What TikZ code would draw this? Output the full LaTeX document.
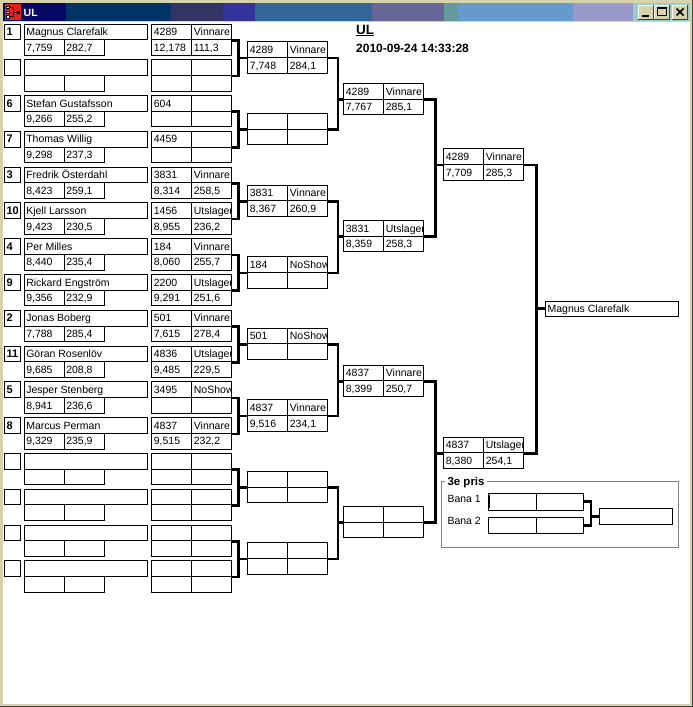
\documentclass[tikz,border=0pt]{standalone}
\usepackage{fontspec}
\setmainfont{Liberation Sans}

\definecolor{winface}{RGB}{214,211,171}
\definecolor{winedge}{RGB}{64,64,64}
\definecolor{iconred}{RGB}{230,30,30}
\definecolor{groupline}{RGB}{128,128,128}
\definecolor{tbA}{RGB}{8,8,102}
\definecolor{tbB}{RGB}{0,51,102}
\definecolor{tbC}{RGB}{51,51,102}
\definecolor{tbD}{RGB}{51,51,153}
\definecolor{tbE}{RGB}{51,102,153}
\definecolor{tbF}{RGB}{102,102,153}
\definecolor{tbG}{RGB}{102,153,153}
\definecolor{tbH}{RGB}{102,153,204}
\definecolor{tbI}{RGB}{153,153,204}
\definecolor{tbJ}{RGB}{153,204,204}

\newcommand{\cellfont}{\fontsize{10.5}{12}\selectfont}
% 2x2 result box: name, x, y, four texts
\newcommand{\resbox}[7]{%
  \node[cell, txt={#4}] (#1-a) at (#2,#3) {};
  \node[cell, txt={#5}] (#1-b) at (#2+40,#3) {};
  \node[cell, txt={#6}] (#1-c) at (#2,#3+15.7) {};
  \node[cell, txt={#7}] (#1-d) at (#2+40,#3+15.7) {};
}

\begin{document}
\begin{tikzpicture}[x=1pt, y=-1pt,
    cell/.style={draw, line width=1pt, inner sep=0pt, anchor=north west,
      minimum width=40pt, minimum height=15.7pt},
    txt/.style={path picture={\node[anchor=base west, inner sep=0pt,
        minimum size=0pt, font=\cellfont]
        at ([shift={(1.6pt,4.2pt)}]path picture bounding box.south west) {#1};}},
    bracket/.style={line width=2.6pt},
    plain/.style={anchor=base west, inner sep=0pt}]
  \useasboundingbox (0,0) rectangle (693,707);
  % window
  \fill[winedge] (0,0) rectangle (693,707);
  \fill[winface] (0,0) rectangle (691.5,705.5);
  \fill[white] (3,22) rectangle (690,704);
  \foreach \xa/\xb/\col in {3/66/tbA,66/171/tbB,171/223/tbC,223/255/tbD,255/372/tbE,
      372/444/tbF,444/458/tbG,458/573/tbH,573/633/tbI,633/690/tbJ}
    \fill[\col] (\xa,3) rectangle (\xb,21);
  \fill[iconred] (5,4) rectangle (21,20);
  \foreach \yy in {6,10.8,15.6}
    \draw[fill=white, line width=0.5pt] (6.5,\yy) rectangle (9.5,\yy+2.6);
  \draw[line width=1pt] (9.5,7.3) -| (13.5,16.9) -- (9.5,16.9);
  \draw[line width=1pt] (13.5,12.1) -- (17,12.1);
  \fill (16.5,10.6) rectangle (19.5,13.6);
  \node[plain, text=white, font=\bfseries\fontsize{10.5}{12}\selectfont] (wtitle) at (23.5,16.5) {UL};
  \foreach \bx in {638,654,672}{
    \fill[winface] (\bx,5) rectangle (\bx+15,19);
    \draw[white, line width=0.8pt] (\bx,19) -- (\bx,5) -- (\bx+15,5);
    \draw[winedge, line width=0.8pt] (\bx,19) -- (\bx+15,19) -- (\bx+15,5);
  }
  \fill (642,14.5) rectangle (648.5,16.5);
  \draw[line width=0.8pt] (657.5,7.5) rectangle (666.5,15.5);
  \fill (657,7) rectangle (667,9);
  \draw[line width=1.5pt] (676.5,8.5) -- (683.5,15.5) (683.5,8.5) -- (676.5,15.5);

  % heading
  \node[plain, font=\bfseries\fontsize{13.5}{15}\selectfont] (head) at (356,34) {\underline{UL}};
  \node[plain, font=\bfseries\fontsize{12}{14}\selectfont] (stamp) at (356,52) {2010-09-24 14:33:28};

  % entries and first round
  \foreach \sd/\nm/\sa/\sb/\ta/\tb/\tc/\td [count=\i from 0] in {%
      1/Magnus Clarefalk/{7,759}/{282,7}/4289/Vinnare/{12,178}/{111,3},%
      {}/{}/{}/{}/{}/{}/{}/{},%
      6/Stefan Gustafsson/{9,266}/{255,2}/604/{}/{}/{},%
      7/Thomas Willig/{9,298}/{237,3}/4459/{}/{}/{},%
      3/Fredrik Österdahl/{8,423}/{259,1}/3831/Vinnare/{8,314}/{258,5},%
      10/Kjell Larsson/{9,423}/{230,5}/1456/Utslagen/{8,955}/{236,2},%
      4/Per Milles/{8,440}/{235,4}/184/Vinnare/{8,060}/{255,7},%
      9/Rickard Engström/{9,356}/{232,9}/2200/Utslagen/{9,291}/{251,6},%
      2/Jonas Boberg/{7,788}/{285,4}/501/Vinnare/{7,615}/{278,4},%
      11/Göran Rosenlöv/{9,685}/{208,8}/4836/Utslagen/{9,485}/{229,5},%
      5/Jesper Stenberg/{8,941}/{236,6}/3495/NoShow/{}/{},%
      8/Marcus Perman/{9,329}/{235,9}/4837/Vinnare/{9,515}/{232,2},%
      {}/{}/{}/{}/{}/{}/{}/{},%
      {}/{}/{}/{}/{}/{}/{}/{},%
      {}/{}/{}/{}/{}/{}/{}/{},%
      {}/{}/{}/{}/{}/{}/{}/{}%
    }{
    \pgfmathsetmacro\y{23.5+35.79*\i}
    \node[cell, minimum width=15.5pt, txt={\bfseries\fontsize{11}{12}\selectfont\sd}] (seed\i) at (4,\y) {};
    \node[cell, minimum width=123.6pt, txt=\nm] (name\i) at (23.7,\y) {};
    \node[cell, txt=\sa] (ta\i) at (23.7,\y+15.7) {};
    \node[cell, txt=\sb] (tb\i) at (63.7,\y+15.7) {};
    \resbox{r1-\i}{151.3}{\y}{\ta}{\tb}{\tc}{\td}
  }

  % second round
  \foreach \ta/\tb/\tc/\td [count=\k from 0] in {4289/Vinnare/{7,748}/{284,1},
      {}/{}/{}/{}, 3831/Vinnare/{8,367}/{260,9}, 184/NoShow/{}/{}, 501/NoShow/{}/{},
      4837/Vinnare/{9,516}/{234,1}, {}/{}/{}/{}, {}/{}/{}/{}}{
    \pgfmathsetmacro\y{41.4+71.58*\k}
    \pgfmathtruncatemacro\u{2*\k}
    \pgfmathtruncatemacro\v{2*\k+1}
    \resbox{r2-\k}{247.3}{\y}{\ta}{\tb}{\tc}{\td}
    \draw[bracket] (r1-\u-b.south east) -- ++(6.2,0) coordinate (j1-\k) |- (r1-\v-b.south east);
    \draw[bracket] (r2-\k-a.south west) -- (r2-\k-a.south west -| j1-\k);
  }

  % semifinals
  \foreach \yt/\ta/\tb/\tc/\td [count=\k from 0] in {83/4289/Vinnare/{7,767}/{285,1},
      220/3831/Utslagen/{8,359}/{258,3}, 364.5/4837/Vinnare/{8,399}/{250,7},
      506/{}/{}/{}/{}}{
    \pgfmathtruncatemacro\u{2*\k}
    \pgfmathtruncatemacro\v{2*\k+1}
    \resbox{r3-\k}{343.3}{\yt}{\ta}{\tb}{\tc}{\td}
    \draw[bracket] (r2-\u-b.south east) -- ++(9.7,0) coordinate (j2-\k) |- (r2-\v-b.south east);
    \draw[bracket] (r3-\k-a.south west) -- (r3-\k-a.south west -| j2-\k);
  }

  % finals
  \foreach \yt/\ta/\tb/\tc/\td [count=\k from 0] in {148.3/4289/Vinnare/{7,709}/{285,3},
      436.6/4837/Utslagen/{8,380}/{254,1}}{
    \pgfmathtruncatemacro\u{2*\k}
    \pgfmathtruncatemacro\v{2*\k+1}
    \resbox{r4-\k}{443.3}{\yt}{\ta}{\tb}{\tc}{\td}
    \draw[bracket] (r3-\u-b.south east) -- ++(11.2,0) coordinate (j3-\k) |- (r3-\v-b.south east);
    \draw[bracket] (r4-\k-a.south west) -- (r4-\k-a.south west -| j3-\k);
  }

  % winner
  \node[cell, minimum width=132.7pt, minimum height=15.5pt, txt={Magnus Clarefalk}] (winner) at (545,300.5) {};
  \draw[bracket] (r4-0-b.south east) -- ++(12,0) coordinate (j4) |- (r4-1-b.south east);
  \draw[bracket] (winner.west) -- (winner.west -| j4);

  % 3e pris
  \draw[groupline] (440.7,480.7) rectangle (678.3,546.7);
  \node[plain, fill=white, inner xsep=2.5pt, inner ysep=2pt, font=\bfseries\fontsize{11.5}{13}\selectfont] (pris) at (444.8,485.7) {3e pris};
  \node[plain, font=\cellfont] (bana1) at (447.3,502.3) {Bana 1};
  \node[plain, font=\cellfont] (bana2) at (447.3,524.3) {Bana 2};
  \node[cell, minimum width=48pt, minimum height=17.5pt] (ba1-a) at (487.7,492.5) {};
  \node[cell, minimum width=47.6pt, minimum height=17.5pt] (ba1-b) at (535.7,492.5) {};
  \node[cell, minimum width=48pt, minimum height=16.8pt] (ba2-a) at (487.7,516.6) {};
  \node[cell, minimum width=47.6pt, minimum height=16.8pt] (ba2-b) at (535.7,516.6) {};
  \node[cell, minimum width=72.7pt, minimum height=15.7pt] (prisfin) at (599,508.3) {};
  \draw[bracket] (ba1-b.east) -- ++(6.7,0) coordinate (j5) |- (ba2-b.east);
  \draw[bracket] (prisfin.west) -- (prisfin.west -| j5);
  \draw[line width=0.8pt] (489.6,494.5) -- (489.6,507.5);
\end{tikzpicture}
\end{document}
